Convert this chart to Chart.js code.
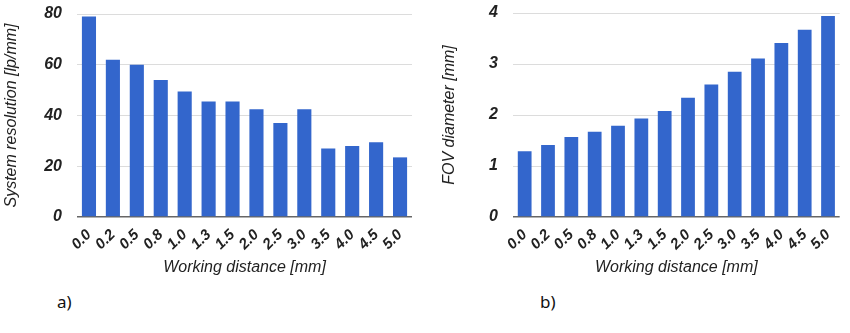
<!DOCTYPE html>
<html>
<head>
<meta charset="utf-8">
<script src="https://cdn.jsdelivr.net/npm/chart.js@4/dist/chart.umd.min.js"></script>
<style>
  html, body { margin: 0; padding: 0; background: #fff; width: 850px; height: 333px; overflow: hidden; }
  .box { position: absolute; top: 0; width: 425px; height: 285px; }
  .lbl { position: absolute; font-family: "Noto Sans", "Open Sans", sans-serif; font-size: 17px; color: #111; }
</style>
</head>
<body>
<div class="box" style="left:0"><canvas id="c1" width="425" height="285"></canvas></div>
<div class="box" style="left:425px"><canvas id="c2" width="425" height="285"></canvas></div>
<div class="lbl" style="left:57px; top:290px;">a)</div>
<div class="lbl" style="left:540px; top:290px;">b)</div>
<script>
const categories = ["0.0","0.2","0.5","0.8","1.0","1.3","1.5","2.0","2.5","3.0","3.5","4.0","4.5","5.0"];
const resolution = [79, 62, 60, 54, 49.5, 45.5, 45.5, 42.5, 37, 42.5, 27, 28, 29.5, 23.5];
const fovDiameter = [1.29, 1.41, 1.57, 1.67, 1.79, 1.93, 2.08, 2.34, 2.60, 2.85, 3.11, 3.41, 3.67, 3.94];
const resTicks = [0, 20, 40, 60, 80];
const fovTicks = [0, 1, 2, 3, 4];
const xTitle = "Working distance [mm]";

const BAR = "#3366cc";
const yTickFont = { family: "'Liberation Sans', Arial, sans-serif", size: 16, style: "italic", weight: "bold" };
const xTickFont = { family: "'Liberation Sans', Arial, sans-serif", size: 15, style: "italic", weight: "bold" };
const titleFont = { family: "'Liberation Sans', Arial, sans-serif", size: 16, style: "italic", weight: "normal" };

function makeChart(id, data, yTitle, ticks, yWidth, padRight, yTitlePad, padTop) {
  new Chart(document.getElementById(id), {
    type: "bar",
    data: {
      labels: categories,
      datasets: [{ data: data, backgroundColor: BAR, borderWidth: 0, categoryPercentage: 1, barPercentage: 0.59 }]
    },
    options: {
      responsive: false,
      animation: false,
      events: [],
      layout: { padding: { top: padTop, right: padRight, bottom: 0, left: 0 } },
      plugins: { legend: { display: false }, tooltip: { enabled: false } },
      scales: {
        x: {
          grid: { display: false, drawTicks: false },
          border: { display: false },
          ticks: { autoSkip: false, minRotation: 45, maxRotation: 45, color: "#222", font: xTickFont, padding: 9 },
          title: { display: true, text: xTitle, color: "#222", font: titleFont, padding: { top: 0, bottom: 8 } },
          afterFit: s => { s.height = 68; }
        },
        y: {
          min: ticks[0], max: ticks[ticks.length - 1],
          afterBuildTicks: s => { s.ticks = ticks.map(v => ({ value: v })); },
          grid: {
            drawTicks: false,
            color: c => (c.tick && c.tick.value === 0) ? "#666" : "#dcdcdc",
            lineWidth: c => (c.tick && c.tick.value === 0) ? 1.5 : 1
          },
          border: { display: false },
          ticks: { color: "#222", font: yTickFont, padding: 15 },
          title: { display: true, text: yTitle, color: "#222", font: titleFont, padding: { top: yTitlePad, bottom: 0 } },
          afterFit: s => { s.width = yWidth; s.paddingTop = 0; s.paddingBottom = 0; }
        }
      }
    }
  });
}

makeChart("c1", resolution, "System resolution [lp/mm]", resTicks, 77, 13, 2, 14);
makeChart("c2", fovDiameter, "FOV diameter [mm]", fovTicks, 88, 7, 15, 13);
</script>
</body>
</html>
